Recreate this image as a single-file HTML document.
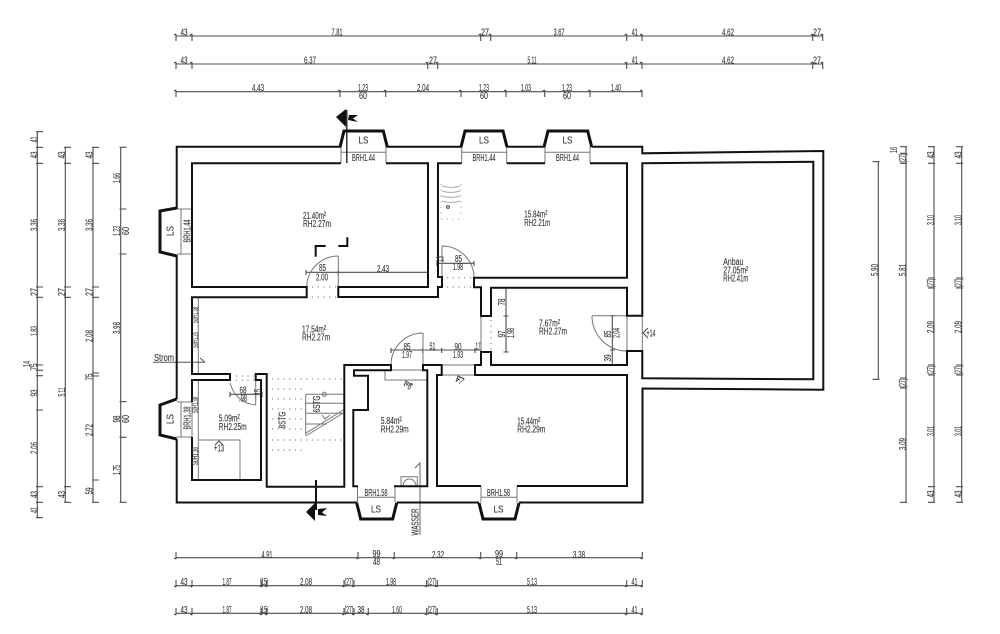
<!DOCTYPE html>
<html><head><meta charset="utf-8"><title>Grundriss</title>
<style>
html,body{margin:0;padding:0;background:#fff;width:1000px;height:634px;overflow:hidden}
svg{display:block;filter:blur(.3px)}
text{font-family:"Liberation Sans",sans-serif;font-size:10px;fill:#333;stroke:#333;stroke-width:.12;text-anchor:middle}
.l text,text.l{text-anchor:start}
</style></head><body>
<svg width="1000" height="634" viewBox="0 0 1000 634" xmlns="http://www.w3.org/2000/svg">
<!-- dimension lines -->
<g fill="none" stroke="#4d4d4d" stroke-width="1.1">
<path d="M176 36H823M176 64H823M176 91.7H642M176 557.7H642.3M176 585.7H642.3M176 613.3H642.3M37.3 131.7V517.7M65.3 147V502.3M93 147V502.3M120.7 147V502.3M878.3 161.7V379.3M906 146.7V502.3M934 146.7V502.3M961.7 146.7V502.3"/>
<path d="M176 34v7m-2-6l2-1M192 34v7m-2-6l2-1M480.7 34v7m-2-6l2-1M490.7 34v7m-2-6l2-1M626.7 34v7m-2-6l2-1M642 34v7m-2-6l2-1M812.7 34v7m-2-6l2-1M822.7 34v7m-2-6l2-1"/>
<path d="M176 62v7m-2-6l2-1M192 62v7m-2-6l2-1M427.7 62v7m-2-6l2-1M437.7 62v7m-2-6l2-1M626.7 62v7m-2-6l2-1M642 62v7m-2-6l2-1M812.7 62v7m-2-6l2-1M822.7 62v7m-2-6l2-1"/>
<path d="M176 90v7m-2-6l2-1M340 90v7m-2-6l2-1M385.7 90v7m-2-6l2-1M461 90v7m-2-6l2-1M506 90v7m-2-6l2-1M544.7 90v7m-2-6l2-1M590 90v7m-2-6l2-1M642 90v7m-2-6l2-1"/>
<path d="M176 559v-7m-2 6l2 1M358 559v-7m-2 6l2 1M394.3 559v-7m-2 6l2 1M480.7 559v-7m-2 6l2 1M516.7 559v-7m-2 6l2 1M642.3 559v-7m-2 6l2 1"/>
<path d="M176 587v-7m-2 6l2 1M192 587v-7m-2 6l2 1M261.7 587v-7m-2 6l2 1M266.7 587v-7m-2 6l2 1M344 587v-7m-2 6l2 1M354 587v-7m-2 6l2 1M426.7 587v-7m-2 6l2 1M437.3 587v-7m-2 6l2 1M626.7 587v-7m-2 6l2 1M642.3 587v-7m-2 6l2 1"/>
<path d="M176 615v-7m-2 6l2 1M192 615v-7m-2 6l2 1M261.7 615v-7m-2 6l2 1M266.7 615v-7m-2 6l2 1M344 615v-7m-2 6l2 1M354 615v-7m-2 6l2 1M368.3 615v-7m-2 6l2 1M426.7 615v-7m-2 6l2 1M437.3 615v-7m-2 6l2 1M626.7 615v-7m-2 6l2 1M642.3 615v-7m-2 6l2 1"/>
<path d="M36 131.7h7M36 147.3h7M36 163.3h7M36 287h7M36 297.3h7M36 365h7M36 370.3h7M36 375.7h7M36 410h7M36 486.7h7M36 502.3h7M36 517.7h7"/>
<path d="M64 147.3h7M64 163.3h7M64 287h7M64 297.3h7M64 486.7h7M64 502.3h7"/>
<path d="M92 147.3h7M92 163.3h7M92 287h7M92 297.3h7M92 373h7M92 376h7M92 480h7M92 502.3h7"/>
<path d="M119.5 147.3h7M119.5 209h7M119.5 254h7M119.5 401.7h7M119.5 437.3h7M119.5 502.3h7"/>
<path d="M879.5 161.7h-7M879.5 379.3h-7"/>
<path d="M907 146.7h-7M907 153.3h-7M907 163.3h-7M907 378h-7M907 388h-7M907 502.3h-7"/>
<path d="M935 146.7h-7M935 163.3h-7M935 278h-7M935 288h-7M935 365h-7M935 375h-7M935 486.7h-7M935 502.3h-7"/>
<path d="M963 146.7h-7M963 163.3h-7M963 278h-7M963 288h-7M963 365h-7M963 375h-7M963 486.7h-7M963 502.3h-7"/>
<!-- interior dims -->
<path d="M306.7 272.3H428M306 270v5M338.3 270v5M428 270v5M437 263.3H474M437 261v5M474 261v5M391 350H481M391 348v5M422.7 348v5M441.7 348v5M475 348v5M481 348v5M230 394.3H262M230 392v5M255.7 392v5M262 392v5M506 287.7V352M503.5 287.7h5M503.5 316h5M503.5 352h5M612.3 315.7V365M610 315.7h5M610 350h5M610 365h5"/>
</g>
<!-- thin grey details -->
<g fill="none" stroke="#777" stroke-width="1">
<path d="M341 147V163M386 147V163M341 152.3H386M461.7 147V163M506.7 147V163M461.7 152.3H506.7M545 147V163M590 147V163M545 152.3H590"/>
<path d="M177 209H192V254H177M181 209V254M177 402H192V437H177M181 402V437"/>
<path d="M357.5 486.5V502.5M395 486.5V502.5M357.5 497.3H395M481 486.5V502.5M517 486.5V502.5M481 497.3H517"/>
<path d="M198.3 297.5V374M198.3 380V480M198.3 440H240V480"/>
<path d="M338.3 256V297M306.7 287A31.6 31.6 0 0 1 338.3 256M442 246V287M442 246A32 32 0 0 1 474 277.7M423 333V370M423 333A32 32 0 0 0 391 365M255.7 405V380M230 383Q236 403 255.7 405M592 315.7H627M592 315.7A35 35 0 0 0 627 351"/>
<path d="M391 370H423M385 370V380H427M441.7 365H475M441.7 375H475M627 315.7V351M642.3 315.7V351M481 316V352"/>
<path d="M305.7 394.3H344M305.7 403.3H344M305.7 413.3H344M305.7 424H327M305.7 394.3V435M305.7 433.3L343.3 410M305.7 436L343.3 413"/>
<path d="M310 424H316M330 415l-5 4-3-4"/>
<circle cx="324.3" cy="394.3" r="2"/>
<path d="M401 486V476.7H417.3V486M403 486A6.5 7 0 0 1 416 486"/>
<path d="M420 535V463L415 468" stroke="#666"/>
<path d="M153 362.3H205M200 358L205 362.3" stroke="#555"/>
<path d="M648 328l-5 5 5 5M223 445l-4-4-4 4M412 385l-6-4 -2 5M464 379l-6-3-2 6" stroke="#444"/>
<path d="M442 186q9 3 18 0M442 191q9 3 18 0M442 196q9 3 18 0M442 201q9 3 18 0" stroke="#aaa"/>
<circle cx="448" cy="207" r="1.4" stroke="#444"/>
</g>
<!-- dotted -->
<g fill="none" stroke="#777" stroke-width="1" stroke-dasharray="1.2 4.5">
<path d="M312 287H337M312 297H337M447 277.7H472M447 287H472M491 320V350"/>
<path d="M272 379H342M272 389H304M272 399H304M272 409H304M272 419H304M272 429H304M272 440H342M272 450H306M236 376H254M236 380H254"/>
<path d="M441 184V218M461 184V218M441 219H461" stroke="#aaa"/>
</g>
<!-- walls -->
<g fill="none" stroke="#111" stroke-width="2" stroke-linejoin="miter">
<path d="M341 146.7H176.7V209M176.7 255V399M176.7 439V502.5H357M396.7 502.5H479M519 502.5H642.5V388.5L823.3 389.7V151L642.3 153.3V146.7H591.7M544.7 146.7H506.7M461.7 146.7H386.7"/>
<path d="M341 163.3H192V287H306.7V297.3H192V374H230V380H192V402M192 437V480H261V380H255.7V374H266.7V486.7H344.3V365H391V370.3H354V375.7H368V410H353.3V486.3H358M394 486.3H427.3V370.3H423V365H441.7V375H437V486H481M517 486H627V375H475V365H481V352H491V365H627V351H642.3V378.3L813.3 379.3V161.7L642.3 163.3V315.7H627V287.7H491V316H481V287.3H474V277.7H627V163.3H590M545 163.3H506.7M461.7 163.3H438V277H442V287H438V297H338.3V287H428V163.3H386"/>
<path d="M315.7 256.7V246H325.7M338.3 246H347.3V237.3"/>
<path d="M316 480V510"/>
<path d="M346.8 110V163" stroke-width="1.3"/>
</g>
<!-- window bumps -->
<g fill="none" stroke="#111" stroke-width="3">
<path d="M340 147L344 131H383.3L387.3 147M461 147L465 131H503L507 147M544 147L548 131H587.7L591.7 147"/>
<path d="M176.7 208L160 211V252L176.7 256M176.7 399L160 405V435L176.7 439"/>
<path d="M356.7 503L360.7 519H392.7L396.7 503M479 503L483 519H515L519 503"/>
</g>
<!-- section arrows -->
<path d="M336 117L346 109V127ZM349 115H358L353 118.5L358 122L348 120Z" fill="#111"/>
<path d="M306 512L315 503V521ZM318 509L327 508L322 512.5L327 516L318 515Z" fill="#111"/>
<g>
<!-- top dims text -->
<text x="184" y="35.5" textLength="7" lengthAdjust="spacingAndGlyphs">43</text><text x="337" y="35.5" textLength="11" lengthAdjust="spacingAndGlyphs">7.81</text><text x="485" y="35.5" textLength="8" lengthAdjust="spacingAndGlyphs">27</text><text x="559" y="35.5" textLength="11" lengthAdjust="spacingAndGlyphs">3.67</text><text x="634.7" y="35.5" textLength="6" lengthAdjust="spacingAndGlyphs">41</text><text x="728" y="35.5" textLength="12" lengthAdjust="spacingAndGlyphs">4.62</text><text x="817" y="35.5" textLength="8" lengthAdjust="spacingAndGlyphs">27</text>
<text x="184" y="63.5" textLength="7" lengthAdjust="spacingAndGlyphs">43</text><text x="310" y="63.5" textLength="12" lengthAdjust="spacingAndGlyphs">6.37</text><text x="433" y="63.5" textLength="8" lengthAdjust="spacingAndGlyphs">27</text><text x="532" y="63.5" textLength="9" lengthAdjust="spacingAndGlyphs">5.11</text><text x="634.7" y="63.5" textLength="6" lengthAdjust="spacingAndGlyphs">41</text><text x="728" y="63.5" textLength="12" lengthAdjust="spacingAndGlyphs">4.62</text><text x="817" y="63.5" textLength="8" lengthAdjust="spacingAndGlyphs">27</text>
<text x="258" y="91" textLength="12" lengthAdjust="spacingAndGlyphs">4.43</text><text x="363" y="91" textLength="10" lengthAdjust="spacingAndGlyphs">1.23</text><text x="363" y="99" textLength="8" lengthAdjust="spacingAndGlyphs">60</text><text x="423" y="91" textLength="12" lengthAdjust="spacingAndGlyphs">2.04</text><text x="484" y="91" textLength="10" lengthAdjust="spacingAndGlyphs">1.23</text><text x="484" y="99" textLength="8" lengthAdjust="spacingAndGlyphs">60</text><text x="526" y="91" textLength="10" lengthAdjust="spacingAndGlyphs">1.03</text><text x="567" y="91" textLength="10" lengthAdjust="spacingAndGlyphs">1.23</text><text x="567" y="99" textLength="8" lengthAdjust="spacingAndGlyphs">60</text><text x="616" y="91" textLength="10" lengthAdjust="spacingAndGlyphs">1.40</text>
<!-- bottom dims text -->
<text x="267" y="558" textLength="11" lengthAdjust="spacingAndGlyphs">4.91</text><text x="376.5" y="557" textLength="8" lengthAdjust="spacingAndGlyphs">99</text><text x="376.5" y="565" textLength="7" lengthAdjust="spacingAndGlyphs">48</text><text x="438" y="558" textLength="12" lengthAdjust="spacingAndGlyphs">2.32</text><text x="499" y="557" textLength="8" lengthAdjust="spacingAndGlyphs">99</text><text x="499" y="565" textLength="6" lengthAdjust="spacingAndGlyphs">51</text><text x="579" y="558" textLength="12" lengthAdjust="spacingAndGlyphs">3.38</text>
<text x="184" y="585" textLength="7" lengthAdjust="spacingAndGlyphs">43</text><text x="227" y="585" textLength="9" lengthAdjust="spacingAndGlyphs">1.87</text><text x="264" y="585" textLength="8" lengthAdjust="spacingAndGlyphs">(15)</text><text x="306" y="585" textLength="12" lengthAdjust="spacingAndGlyphs">2.08</text><text x="349" y="585" textLength="9" lengthAdjust="spacingAndGlyphs">(27)</text><text x="391" y="585" textLength="10" lengthAdjust="spacingAndGlyphs">1.98</text><text x="432" y="585" textLength="9" lengthAdjust="spacingAndGlyphs">(27)</text><text x="532" y="585" textLength="10" lengthAdjust="spacingAndGlyphs">5.13</text><text x="634.5" y="585" textLength="6" lengthAdjust="spacingAndGlyphs">41</text>
<text x="184" y="613" textLength="7" lengthAdjust="spacingAndGlyphs">43</text><text x="227" y="613" textLength="9" lengthAdjust="spacingAndGlyphs">1.87</text><text x="264" y="613" textLength="8" lengthAdjust="spacingAndGlyphs">(15)</text><text x="306" y="613" textLength="12" lengthAdjust="spacingAndGlyphs">2.08</text><text x="349" y="613" textLength="9" lengthAdjust="spacingAndGlyphs">(27)</text><text x="361" y="613" textLength="7" lengthAdjust="spacingAndGlyphs">38</text><text x="397" y="613" textLength="10" lengthAdjust="spacingAndGlyphs">1.60</text><text x="432" y="613" textLength="9" lengthAdjust="spacingAndGlyphs">(27)</text><text x="532" y="613" textLength="10" lengthAdjust="spacingAndGlyphs">5.13</text><text x="634.5" y="613" textLength="6" lengthAdjust="spacingAndGlyphs">41</text>
<!-- left dims text -->
<text transform="rotate(-90 37.5 139.5)" x="37.5" y="139.5" textLength="6" lengthAdjust="spacingAndGlyphs">41</text><text transform="rotate(-90 37.5 155)" x="37.5" y="155" textLength="7" lengthAdjust="spacingAndGlyphs">43</text><text transform="rotate(-90 37.5 225)" x="37.5" y="225" textLength="12" lengthAdjust="spacingAndGlyphs">3.36</text><text transform="rotate(-90 37.5 292)" x="37.5" y="292" textLength="8" lengthAdjust="spacingAndGlyphs">27</text><text transform="rotate(-90 37.5 331)" x="37.5" y="331" textLength="10" lengthAdjust="spacingAndGlyphs">1.83</text><text transform="rotate(-90 30 364)" x="30" y="364" textLength="6" lengthAdjust="spacingAndGlyphs">14</text><text transform="rotate(-90 37.5 367)" x="37.5" y="367" textLength="7" lengthAdjust="spacingAndGlyphs">75</text><text transform="rotate(-90 37.5 393)" x="37.5" y="393" textLength="7" lengthAdjust="spacingAndGlyphs">93</text><text transform="rotate(-90 37.5 448)" x="37.5" y="448" textLength="12" lengthAdjust="spacingAndGlyphs">2.06</text><text transform="rotate(-90 37.5 494.5)" x="37.5" y="494.5" textLength="7" lengthAdjust="spacingAndGlyphs">43</text><text transform="rotate(-90 37.5 510)" x="37.5" y="510" textLength="6" lengthAdjust="spacingAndGlyphs">41</text>
<text transform="rotate(-90 65 155)" x="65" y="155" textLength="7" lengthAdjust="spacingAndGlyphs">43</text><text transform="rotate(-90 65 225)" x="65" y="225" textLength="12" lengthAdjust="spacingAndGlyphs">3.36</text><text transform="rotate(-90 65 292)" x="65" y="292" textLength="8" lengthAdjust="spacingAndGlyphs">27</text><text transform="rotate(-90 65 392)" x="65" y="392" textLength="9" lengthAdjust="spacingAndGlyphs">5.11</text><text transform="rotate(-90 65 494.5)" x="65" y="494.5" textLength="7" lengthAdjust="spacingAndGlyphs">43</text>
<text transform="rotate(-90 92.5 155)" x="92.5" y="155" textLength="7" lengthAdjust="spacingAndGlyphs">43</text><text transform="rotate(-90 92.5 225)" x="92.5" y="225" textLength="12" lengthAdjust="spacingAndGlyphs">3.36</text><text transform="rotate(-90 92.5 292)" x="92.5" y="292" textLength="8" lengthAdjust="spacingAndGlyphs">27</text><text transform="rotate(-90 92.5 336)" x="92.5" y="336" textLength="12" lengthAdjust="spacingAndGlyphs">2.08</text><text transform="rotate(-90 92.5 377)" x="92.5" y="377" textLength="7" lengthAdjust="spacingAndGlyphs">75</text><text transform="rotate(-90 92.5 430)" x="92.5" y="430" textLength="12" lengthAdjust="spacingAndGlyphs">2.72</text><text transform="rotate(-90 92.5 491)" x="92.5" y="491" textLength="7" lengthAdjust="spacingAndGlyphs">59</text>
<text transform="rotate(-90 120 178)" x="120" y="178" textLength="10" lengthAdjust="spacingAndGlyphs">1.66</text><text transform="rotate(-90 120 231)" x="120" y="231" textLength="10" lengthAdjust="spacingAndGlyphs">1.23</text><text transform="rotate(-90 129 231)" x="129" y="231" textLength="8" lengthAdjust="spacingAndGlyphs">60</text><text transform="rotate(-90 120 328)" x="120" y="328" textLength="12" lengthAdjust="spacingAndGlyphs">3.98</text><text transform="rotate(-90 120 419)" x="120" y="419" textLength="7" lengthAdjust="spacingAndGlyphs">98</text><text transform="rotate(-90 129 419)" x="129" y="419" textLength="8" lengthAdjust="spacingAndGlyphs">60</text><text transform="rotate(-90 120 470)" x="120" y="470" textLength="10" lengthAdjust="spacingAndGlyphs">1.75</text>
<!-- right dims text -->
<text transform="rotate(-90 878 270)" x="878" y="270" textLength="12" lengthAdjust="spacingAndGlyphs">5.90</text>
<text transform="rotate(-90 897 150)" x="897" y="150" textLength="6" lengthAdjust="spacingAndGlyphs">16</text><text transform="rotate(-90 906 158)" x="906" y="158" textLength="9" lengthAdjust="spacingAndGlyphs">(27)</text><text transform="rotate(-90 906 270)" x="906" y="270" textLength="12" lengthAdjust="spacingAndGlyphs">5.81</text><text transform="rotate(-90 906 383)" x="906" y="383" textLength="9" lengthAdjust="spacingAndGlyphs">(27)</text><text transform="rotate(-90 906 444)" x="906" y="444" textLength="12" lengthAdjust="spacingAndGlyphs">3.09</text>
<text transform="rotate(-90 934 155)" x="934" y="155" textLength="7" lengthAdjust="spacingAndGlyphs">43</text><text transform="rotate(-90 934 220)" x="934" y="220" textLength="10" lengthAdjust="spacingAndGlyphs">3.10</text><text transform="rotate(-90 934 283)" x="934" y="283" textLength="9" lengthAdjust="spacingAndGlyphs">(27)</text><text transform="rotate(-90 934 327)" x="934" y="327" textLength="12" lengthAdjust="spacingAndGlyphs">2.09</text><text transform="rotate(-90 934 370)" x="934" y="370" textLength="9" lengthAdjust="spacingAndGlyphs">(27)</text><text transform="rotate(-90 934 431)" x="934" y="431" textLength="10" lengthAdjust="spacingAndGlyphs">3.01</text><text transform="rotate(-90 934 494)" x="934" y="494" textLength="7" lengthAdjust="spacingAndGlyphs">43</text>
<text transform="rotate(-90 961.5 155)" x="961.5" y="155" textLength="7" lengthAdjust="spacingAndGlyphs">43</text><text transform="rotate(-90 961.5 220)" x="961.5" y="220" textLength="10" lengthAdjust="spacingAndGlyphs">3.10</text><text transform="rotate(-90 961.5 283)" x="961.5" y="283" textLength="9" lengthAdjust="spacingAndGlyphs">(27)</text><text transform="rotate(-90 961.5 327)" x="961.5" y="327" textLength="12" lengthAdjust="spacingAndGlyphs">2.09</text><text transform="rotate(-90 961.5 370)" x="961.5" y="370" textLength="9" lengthAdjust="spacingAndGlyphs">(27)</text><text transform="rotate(-90 961.5 431)" x="961.5" y="431" textLength="10" lengthAdjust="spacingAndGlyphs">3.01</text><text transform="rotate(-90 961.5 494)" x="961.5" y="494" textLength="7" lengthAdjust="spacingAndGlyphs">43</text>
<!-- window labels -->
<text x="363.5" y="143.5" textLength="10" lengthAdjust="spacingAndGlyphs">LS</text><text x="363.5" y="161" textLength="23" lengthAdjust="spacingAndGlyphs">BRH1.44</text>
<text x="484" y="143.5" textLength="10" lengthAdjust="spacingAndGlyphs">LS</text><text x="484" y="161" textLength="23" lengthAdjust="spacingAndGlyphs">BRH1.44</text>
<text x="567.5" y="143.5" textLength="10" lengthAdjust="spacingAndGlyphs">LS</text><text x="567.5" y="161" textLength="23" lengthAdjust="spacingAndGlyphs">BRH1.44</text>
<text transform="rotate(-90 173.5 231)" x="173.5" y="231" textLength="10" lengthAdjust="spacingAndGlyphs">LS</text><text transform="rotate(-90 190.5 231)" x="190.5" y="231" textLength="23" lengthAdjust="spacingAndGlyphs">BRH1.44</text>
<text transform="rotate(-90 173.5 419)" x="173.5" y="419" textLength="10" lengthAdjust="spacingAndGlyphs">LS</text><text transform="rotate(-90 190.5 418)" x="190.5" y="418" textLength="23" lengthAdjust="spacingAndGlyphs">BRH1.38</text>
<text x="376" y="512.5" textLength="10" lengthAdjust="spacingAndGlyphs">LS</text><text x="376" y="496" textLength="23" lengthAdjust="spacingAndGlyphs">BRH1.58</text>
<text x="498.5" y="512.5" textLength="10" lengthAdjust="spacingAndGlyphs">LS</text><text x="498.5" y="496" textLength="23" lengthAdjust="spacingAndGlyphs">BRH1.58</text>
<text transform="rotate(-90 198 315)" x="198" y="315" textLength="16" lengthAdjust="spacingAndGlyphs" style="font-size:8px">S0H1.38</text><text transform="rotate(-90 198 340)" x="198" y="340" textLength="16" lengthAdjust="spacingAndGlyphs" style="font-size:8px">S0H1.20</text><text transform="rotate(-90 198 405)" x="198" y="405" textLength="16" lengthAdjust="spacingAndGlyphs" style="font-size:8px">S0H1.38</text><text transform="rotate(-90 198 456)" x="198" y="456" textLength="18" lengthAdjust="spacingAndGlyphs" style="font-size:8px">S0H1.38</text>
<!-- room labels -->
<text class="l" x="303" y="219" textLength="23" lengthAdjust="spacingAndGlyphs">21.40m²</text><text class="l" x="303" y="227" textLength="28" lengthAdjust="spacingAndGlyphs">RH2.27m</text>
<text class="l" x="524.3" y="217.5" textLength="23" lengthAdjust="spacingAndGlyphs">15.84m²</text><text class="l" x="524.3" y="226" textLength="26" lengthAdjust="spacingAndGlyphs">RH2.21m</text>
<text class="l" x="723.3" y="265" textLength="20" lengthAdjust="spacingAndGlyphs">Anbau</text><text class="l" x="723.3" y="273.5" textLength="25" lengthAdjust="spacingAndGlyphs">27.05m²</text><text class="l" x="723.3" y="281.5" textLength="25" lengthAdjust="spacingAndGlyphs">RH2.41m</text>
<text class="l" x="539" y="326.5" textLength="21" lengthAdjust="spacingAndGlyphs">7.67m²</text><text class="l" x="539" y="334.5" textLength="28" lengthAdjust="spacingAndGlyphs">RH2.27m</text>
<text class="l" x="302" y="332.5" textLength="24" lengthAdjust="spacingAndGlyphs">17.54m²</text><text class="l" x="302" y="340.5" textLength="28" lengthAdjust="spacingAndGlyphs">RH2.27m</text>
<text class="l" x="218.7" y="421.5" textLength="21" lengthAdjust="spacingAndGlyphs">5.09m²</text><text class="l" x="218.7" y="430" textLength="28" lengthAdjust="spacingAndGlyphs">RH2.25m</text>
<text class="l" x="380.7" y="424" textLength="21" lengthAdjust="spacingAndGlyphs">5.84m²</text><text class="l" x="380.7" y="432.5" textLength="28" lengthAdjust="spacingAndGlyphs">RH2.29m</text>
<text class="l" x="517.3" y="424.5" textLength="23" lengthAdjust="spacingAndGlyphs">15.44m²</text><text class="l" x="517.3" y="432.5" textLength="28" lengthAdjust="spacingAndGlyphs">RH2.29m</text>
<!-- interior dim labels -->
<text x="322.5" y="271" textLength="7" lengthAdjust="spacingAndGlyphs">85</text><text x="322" y="280.5" textLength="12" lengthAdjust="spacingAndGlyphs">2.00</text><text x="383" y="272" textLength="12" lengthAdjust="spacingAndGlyphs">2.43</text>
<text x="458.5" y="262" textLength="7" lengthAdjust="spacingAndGlyphs">85</text><text x="458" y="270" textLength="10" lengthAdjust="spacingAndGlyphs">1.98</text><text transform="rotate(-90 443.5 259)" x="443.5" y="259" textLength="6" lengthAdjust="spacingAndGlyphs">13</text>
<text x="407" y="350" textLength="7" lengthAdjust="spacingAndGlyphs">85</text><text x="407" y="358" textLength="10" lengthAdjust="spacingAndGlyphs">1.97</text><text x="432.5" y="349.5" textLength="6" lengthAdjust="spacingAndGlyphs">51</text><text x="458" y="350" textLength="7" lengthAdjust="spacingAndGlyphs">90</text><text x="458" y="358" textLength="10" lengthAdjust="spacingAndGlyphs">1.93</text><text x="478" y="349.5" textLength="5" lengthAdjust="spacingAndGlyphs">17</text>
<text x="243" y="393.5" textLength="7" lengthAdjust="spacingAndGlyphs">68</text><text x="243" y="401.5" textLength="8" lengthAdjust="spacingAndGlyphs">.98</text><text transform="rotate(-90 261 392)" x="261" y="392" textLength="6" lengthAdjust="spacingAndGlyphs">15</text>
<text transform="rotate(-90 505 302)" x="505" y="302" textLength="7" lengthAdjust="spacingAndGlyphs">78</text><text transform="rotate(-90 505 334)" x="505" y="334" textLength="7" lengthAdjust="spacingAndGlyphs">97</text><text transform="rotate(-90 514 333)" x="514" y="333" textLength="10" lengthAdjust="spacingAndGlyphs">1.98</text>
<text transform="rotate(-90 611 334)" x="611" y="334" textLength="7" lengthAdjust="spacingAndGlyphs">85</text><text transform="rotate(-90 619.5 333)" x="619.5" y="333" textLength="10" lengthAdjust="spacingAndGlyphs">2.04</text><text transform="rotate(-90 611 358)" x="611" y="358" textLength="7" lengthAdjust="spacingAndGlyphs">39</text>
<text x="651" y="336.5" textLength="9" lengthAdjust="spacingAndGlyphs">+14</text><text x="219" y="451.5" textLength="10" lengthAdjust="spacingAndGlyphs">+13</text>
<text transform="rotate(35 406.7 388)" x="406.7" y="388" textLength="7" lengthAdjust="spacingAndGlyphs">+6</text><text transform="rotate(35 458 383)" x="458" y="383" textLength="7" lengthAdjust="spacingAndGlyphs">+7</text>
<text transform="rotate(-90 285.5 420)" x="285.5" y="420" textLength="17" lengthAdjust="spacingAndGlyphs">8STG</text><text transform="rotate(-90 320 404)" x="320" y="404" textLength="17" lengthAdjust="spacingAndGlyphs">6STG</text>
<text transform="rotate(-90 418.5 522)" x="418.5" y="522" textLength="27" lengthAdjust="spacingAndGlyphs">WASSER</text>
<text class="l" x="154" y="361" textLength="20" lengthAdjust="spacingAndGlyphs">Strom</text>
</g>
</svg>
</body></html>
